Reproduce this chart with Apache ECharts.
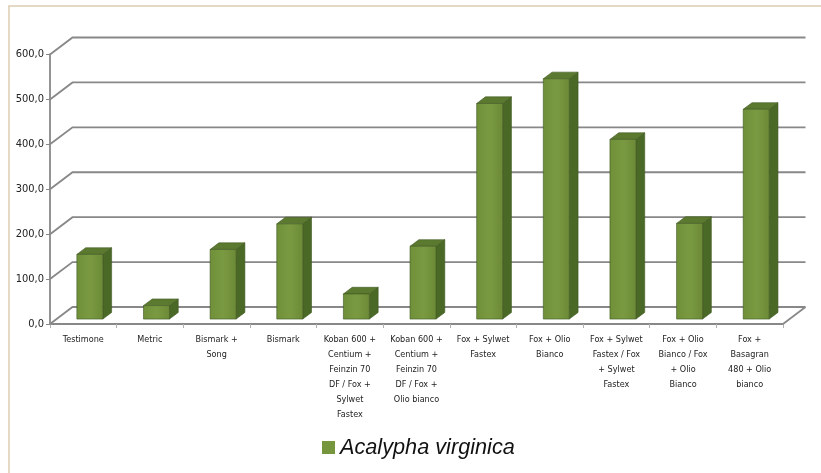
<!DOCTYPE html>
<html>
<head>
<meta charset="utf-8">
<style>
html,body{margin:0;padding:0;background:#fff;}
#chart{width:821px;height:473px;}
</style>
<script src="https://cdn.jsdelivr.net/npm/echarts@6/dist/echarts.min.js"></script>
</head>
<body>
<div id="chart"></div>
<script>
var categories = [
  'Testimone',
  'Metric',
  'Bismark +\nSong',
  'Bismark',
  'Koban 600 +\nCentium +\nFeinzin 70\nDF / Fox +\nSylwet\nFastex',
  'Koban 600 +\nCentium +\nFeinzin 70\nDF / Fox +\nOlio bianco',
  'Fox + Sylwet\nFastex',
  'Fox + Olio\nBianco',
  'Fox + Sylwet\nFastex / Fox\n+ Sylwet\nFastex',
  'Fox + Olio\nBianco / Fox\n+ Olio\nBianco',
  'Fox +\nBasagran\n480 + Olio\nbianco'
];
var seriesName = 'Acalypha virginica';
var values = [144, 30, 155, 212, 56, 162, 480, 535, 400, 213, 467];
var yTicks = [0, 100, 200, 300, 400, 500, 600];

var DX = 22.5, DY = 17;          // full depth of the 3D box (projected)
var F0 = 0.29, F1 = 0.68;        // bar depth range (fraction of full depth)
var BAR_W = 0.39;                // bar width as fraction of band

var chart = echarts.init(document.getElementById('chart'));
var font = "'Liberation Sans Narrow','DejaVu Sans Condensed',sans-serif";
var wallColor = '#888888';

chart.setOption({
  backgroundColor: '#ffffff',
  animation: false,
  graphic: [
    { type: 'polyline', silent: true, z: -10,
      shape: { points: [[9, 473], [9, 6], [821, 6]] },
      style: { stroke: '#dccdb2', lineWidth: 1.5, fill: null } }
  ],
  grid: { left: 50, right: 38, top: 54.5, bottom: 149, containLabel: false },
  legend: {
    data: [seriesName],
    left: 322, top: 434.5, padding: 0,
    icon: 'rect', itemWidth: 13, itemHeight: 13, itemGap: 5,
    textStyle: { fontSize: 21.7, fontStyle: 'italic', color: '#111',
      fontFamily: "'Liberation Sans','DejaVu Sans',sans-serif", lineHeight: 26 }
  },
  xAxis: {
    type: 'category',
    data: categories,
    axisLine: { show: true, lineStyle: { color: wallColor, width: 1.8 } },
    axisTick: { show: true, length: 4, interval: 0, lineStyle: { color: '#b0b0b0', width: 1 } },
    axisLabel: { interval: 0, fontSize: 9, lineHeight: 15, color: '#222', margin: 8, fontFamily: font },
    splitLine: { show: false }
  },
  yAxis: {
    type: 'value',
    min: 0, max: 600, interval: 100,
    axisLine: { show: true, lineStyle: { color: wallColor, width: 1.8 } },
    axisTick: { show: true, length: 4, lineStyle: { color: wallColor, width: 1 } },
    axisLabel: { fontSize: 11, color: '#222', margin: 6, fontFamily: font,
      formatter: function (v) { return v.toFixed(1).replace('.', ','); } },
    splitLine: { show: false }
  },
  series: [
    {
      type: 'custom',
      name: '__walls',
      silent: true,
      clip: false,
      z: 1,
      data: yTicks,
      encode: { y: 0 },
      renderItem: function (params, api) {
        var v = api.value(0);
        var cs = params.coordSys;
        var p = api.coord([0, v]);
        var y = p[1];
        var xl = cs.x, xr = cs.x + cs.width;
        var children = [{
          type: 'polyline',
          shape: { points: [[xl, y], [xl + DX, y - DY], [xr + DX, y - DY]] },
          style: { stroke: wallColor, lineWidth: 1.8, fill: null }
        }];
        if (v === 0) {
          children.push({
            type: 'line',
            shape: { x1: xr, y1: y, x2: xr + DX, y2: y - DY },
            style: { stroke: wallColor, lineWidth: 1.8 }
          });
        }
        return { type: 'group', children: children };
      }
    },
    {
      type: 'custom',
      name: seriesName,
      clip: false,
      z: 3,
      itemStyle: { color: '#76963e' },
      data: values.map(function (v, i) { return [i, v]; }),
      encode: { x: 0, y: 1 },
      renderItem: function (params, api) {
        var i = api.value(0), v = api.value(1);
        var base = api.coord([i, 0]);
        var top = api.coord([i, v]);
        var band = api.size([1, 0])[0];
        var w = band * BAR_W;
        var ox = DX * F0, oy = DY * F0;
        var ddx = DX * (F1 - F0), ddy = DY * (F1 - F0);
        var x0 = base[0] - w / 2 + ox, x1 = x0 + w;
        var yb = base[1] - oy, yt = top[1] - oy;
        var stroke = '#3f5822';
        return {
          type: 'group',
          children: [
            { type: 'polygon',
              shape: { points: [[x1, yb], [x1 + ddx, yb - ddy], [x1 + ddx, yt - ddy], [x1, yt]] },
              style: { fill: '#4b6926', stroke: stroke, lineWidth: 0.6 } },
            { type: 'polygon',
              shape: { points: [[x0, yt], [x1, yt], [x1 + ddx, yt - ddy], [x0 + ddx, yt - ddy]] },
              style: { fill: '#5c7a2f', stroke: stroke, lineWidth: 0.6 } },
            { type: 'rect',
              shape: { x: x0, y: yt, width: w, height: yb - yt },
              style: { fill: new echarts.graphic.LinearGradient(0, 0, 1, 0, [
                  { offset: 0, color: '#6f8f38' },
                  { offset: 0.5, color: '#7a9a42' },
                  { offset: 1, color: '#6c8a36' }]),
                stroke: stroke, lineWidth: 0.6 } }
          ]
        };
      }
    }
  ]
});
</script>
</body>
</html>
